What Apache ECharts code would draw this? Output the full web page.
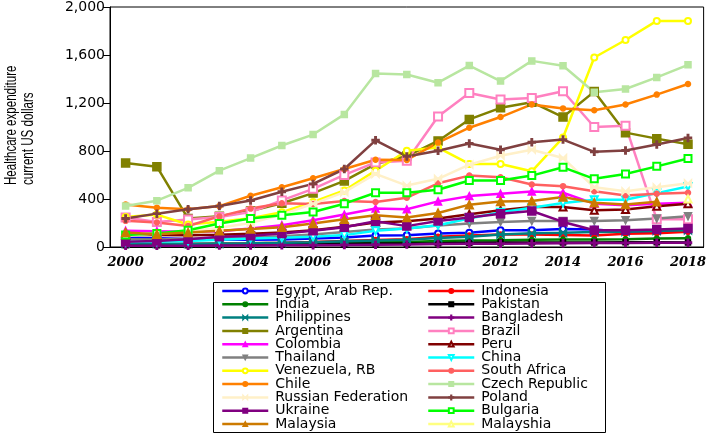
<!DOCTYPE html>
<html><head><meta charset="utf-8">
<script src="https://cdn.jsdelivr.net/npm/echarts@6/dist/echarts.min.js"></script>
<style>html,body{margin:0;padding:0;background:#fff}#c{width:709px;height:433px}</style>
</head><body><div id="c"></div>
<script>
var years = ['2000','2001','2002','2003','2004','2005','2006','2007','2008','2009','2010','2011','2012','2013','2014','2015','2016','2017','2018'];
var yTicks = [0, 400, 800, 1200, 1600, 2000];

var egypt       = [75,72,66,62,60,63,70,80,95,97,113,118,140,140,151,146,126,130,135];
var indonesia   = [20,20,25,30,32,35,42,50,58,65,85,95,105,105,100,95,110,115,128];
var india       = [18,18,19,21,24,28,31,35,40,42,50,55,57,60,62,62,65,70,73];
var pakistan    = [15,15,15,17,20,22,25,28,30,30,32,35,38,38,38,37,40,40,38];
var philippines = [30,30,28,30,32,35,40,48,55,60,75,85,105,115,118,125,128,135,140];
var bangladesh  = [10,10,11,12,13,14,15,17,19,21,24,27,28,30,32,33,34,35,36];
var argentina   = [700,669,237,256,300,365,449,551,691,758,884,1063,1160,1207,1083,1295,953,903,857];
var brazil      = [245,209,229,250,292,388,485,601,705,719,1088,1284,1229,1242,1298,1000,1011,231,231];
var colombia    = [135,132,128,132,154,182,223,270,320,314,380,424,444,463,452,361,347,361,369];
var peru        = [100,100,98,102,110,120,140,168,204,215,237,273,306,333,333,306,312,339,361];
var thailand    = [65,63,68,75,82,90,105,125,145,155,180,196,209,217,217,217,223,237,256];
var china       = [42,45,50,60,70,77,85,99,135,154,182,237,289,328,366,394,394,449,504];
var venezuela   = [250,270,188,210,240,290,375,471,636,802,829,692,692,631,912,1579,1725,1884,1884];
var southAfrica = [218,205,175,255,320,365,358,383,375,411,531,595,581,521,507,465,430,444,452];
var chile       = [355,328,314,341,427,498,573,650,727,725,870,994,1083,1188,1155,1140,1188,1270,1358];
var czech       = [341,386,493,636,741,846,937,1105,1446,1438,1369,1512,1383,1551,1510,1289,1317,1413,1518];
var russia      = [95,110,130,160,200,270,360,457,609,512,568,686,760,810,741,498,465,498,531];
var poland      = [237,278,315,341,388,460,526,650,889,755,802,863,810,873,895,793,804,854,909];
var ukraine     = [44,50,64,85,93,113,135,165,215,174,217,245,278,300,209,140,140,146,154];
var bulgaria    = [99,113,140,196,237,264,292,361,452,452,477,554,554,595,664,568,609,672,738];
var malaysia    = [121,107,121,135,149,165,196,231,264,245,283,353,380,383,416,369,355,378,null];
var malayshia   = [null,null,null,null,null,null,null,null,null,null,null,null,null,null,null,null,null,null,400];

var PLUS = 'path://M4,0H6V4H10V6H6V10H4V6H0V4H4Z';
var BOW = 'path://M0,0L5,5L0,10Z M10,0L5,5L10,10Z';

var seriesDefs = [
  ['Egypt, Arab Rep.', egypt, '#0000ff', 'emptyCircle', 6, 0],
  ['Indonesia', indonesia, '#ff0000', 'circle', 5, 0],
  ['India', india, '#008000', 'circle', 5, 0],
  ['Pakistan', pakistan, '#000000', 'rect', 5, 0],
  ['Philippines', philippines, '#008080', BOW, 7, 0],
  ['Bangladesh', bangladesh, '#800080', PLUS, 7, 0],
  ['Argentina', argentina, '#808000', 'rect', 8, 0],
  ['Brazil', brazil, '#ff80c0', 'emptyRect', 8, 0],
  ['Colombia', colombia, '#ff00ff', 'triangle', 7, 0],
  ['Peru', peru, '#800000', 'emptyTriangle', 7, 0],
  ['Thailand', thailand, '#808080', 'triangle', 7, 180],
  ['China', china, '#00ffff', 'emptyTriangle', 7, 180],
  ['Venezuela, RB', venezuela, '#ffff00', 'emptyCircle', 6, 0],
  ['South Africa', southAfrica, '#ff6060', 'circle', 5, 0],
  ['Chile', chile, '#ff8000', 'circle', 5, 0],
  ['Czech Republic', czech, '#b8e6a0', 'rect', 6, 0],
  ['Russian Federation', russia, '#fff0c8', BOW, 7, 0],
  ['Poland', poland, '#804040', PLUS, 7, 0],
  ['Ukraine', ukraine, '#800080', 'rect', 8, 0],
  ['Bulgaria', bulgaria, '#00ff00', 'emptyRect', 7, 0],
  ['Malaysia', malaysia, '#cc7a00', 'triangle', 8, 0],
  ['Malayshia', malayshia, '#ffff80', 'emptyTriangle', 7, 0]
];

var series = seriesDefs.map(function (d) {
  return {
    name: d[0], type: 'line', data: d[1],
    symbol: d[3], symbolSize: d[4], symbolRotate: d[5],
    showAllSymbol: true, connectNulls: false,
    lineStyle: { color: d[2], width: 2.5 },
    itemStyle: { color: d[2], borderColor: d[2], borderWidth: 1.5 },
    emphasis: { disabled: true },
    animation: false
  };
});

var leftNames = [], rightNames = [];
seriesDefs.forEach(function (d, i) { (i % 2 === 0 ? leftNames : rightNames).push(d[0]); });

var legendCommon = {
  orient: 'vertical', top: 284, height: 300, itemWidth: 46, itemHeight: 6, itemGap: -0.7,
  padding: 0, selectedMode: false,
  itemStyle: { borderWidth: 1.2 },
  lineStyle: { width: 2.5 },
  textStyle: { fontFamily: 'DejaVu Sans', fontSize: 14, color: '#000', padding: [0, 0, 0, 2] }
};

var chart = echarts.init(document.getElementById('c'), null, { renderer: 'canvas' });
chart.setOption({
  animation: false,
  backgroundColor: '#fff',
  grid: { left: 110, right: 2, top: 5, bottom: 186, show: true, borderColor: '#000', borderWidth: 1, backgroundColor: 'transparent' },
  xAxis: {
    type: 'category', data: years, boundaryGap: true,
    axisLine: { lineStyle: { color: '#000', width: 1 } },
    axisTick: { interval: 0, length: 4, lineStyle: { color: '#000' } },
    axisLabel: { interval: 1, margin: 9, color: '#000', fontFamily: 'DejaVu Serif', fontWeight: 'bold', fontStyle: 'italic', fontSize: 13 }
  },
  yAxis: {
    type: 'value', min: yTicks[0], max: yTicks[yTicks.length - 1], interval: 400,
    splitLine: { show: false },
    axisLine: { show: true, lineStyle: { color: '#000', width: 1 } },
    axisTick: { show: true, length: 7, lineStyle: { color: '#000' } },
    axisLabel: { margin: 5, color: '#000', fontFamily: 'DejaVu Sans', fontSize: 14,
      formatter: function (v) { return v.toLocaleString('en-US'); } }
  },
  legend: [
    Object.assign({ left: 221, data: leftNames }, legendCommon),
    Object.assign({ left: 427, data: rightNames }, legendCommon)
  ],
  graphic: [
    { type: 'rect', shape: { x: 213.5, y: 282.5, width: 392, height: 150 }, style: { fill: 'none', stroke: '#000', lineWidth: 1 }, z: 100 },
    { type: 'text', x: 11, y: 185, rotation: Math.PI / 2, scaleX: 0.68, style: { text: 'Healthcare expenditure', font: '17px "Liberation Sans"', fill: '#000', align: 'left', verticalAlign: 'middle' } },
    { type: 'text', x: 28, y: 185, rotation: Math.PI / 2, scaleX: 0.68, style: { text: 'current US dollars', font: '17px "Liberation Sans"', fill: '#000', align: 'left', verticalAlign: 'middle' } }
  ],
  series: series
});
</script></body></html>
